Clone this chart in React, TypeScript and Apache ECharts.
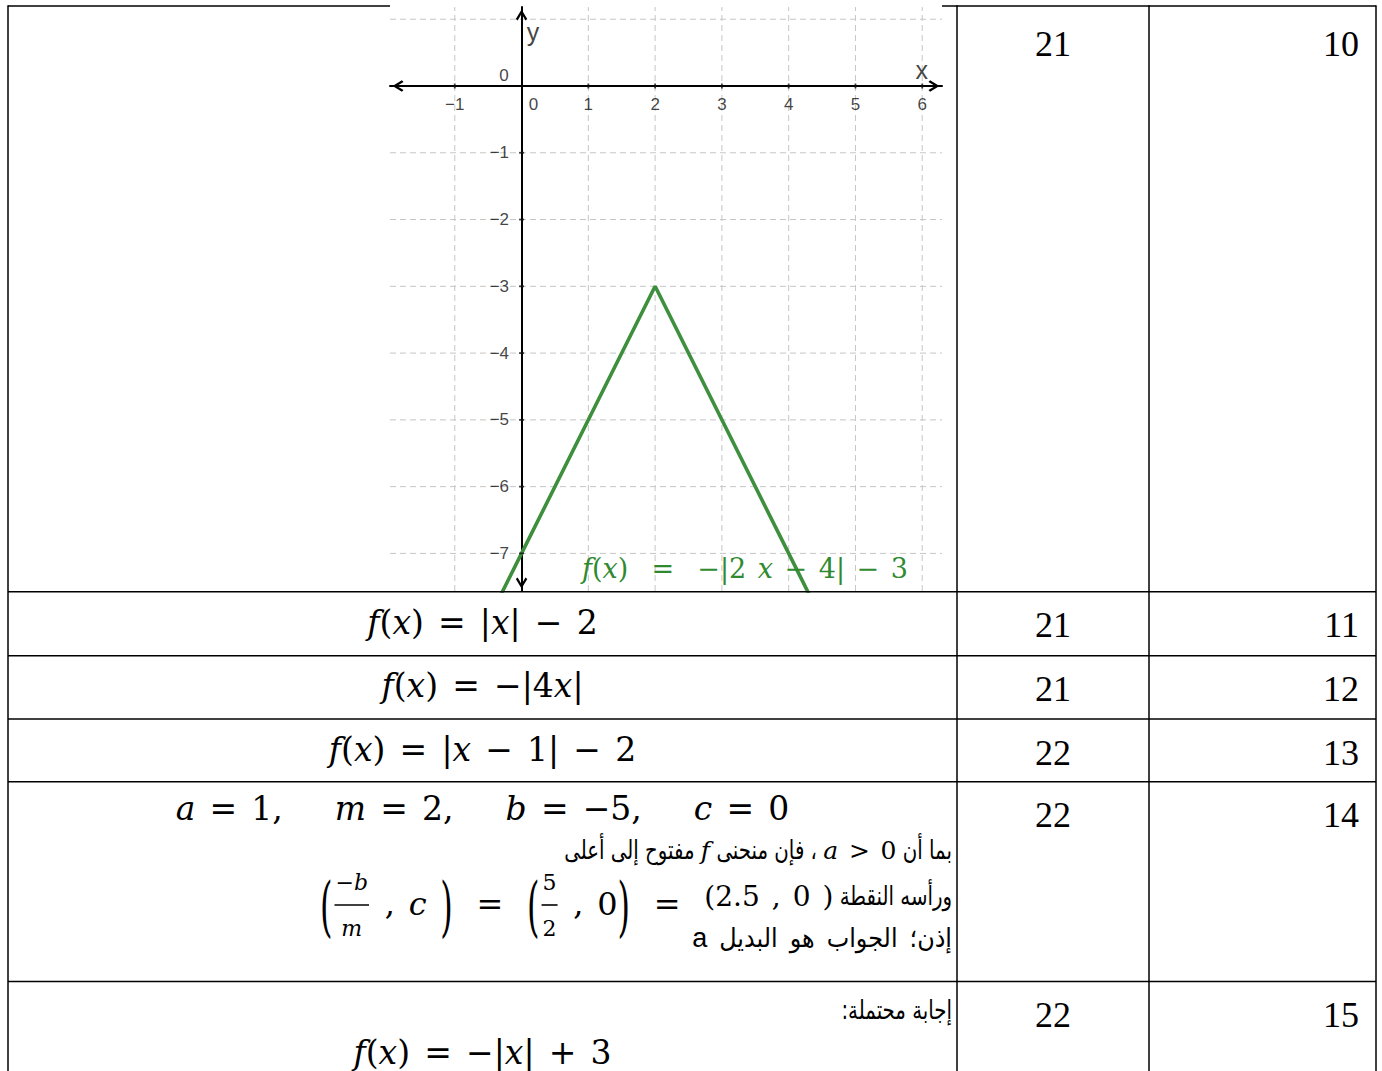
import React, { useEffect, useRef } from 'react';
import * as echarts from 'echarts';

// ---------------- data ----------------
const questionNumbers = ['10', '11', '12', '13', '14', '15'];
const pageNumbers = ['21', '21', '21', '22', '22', '22'];
const answerFormulas = ['f(x) = |x| − 2', 'f(x) = −|4x|', 'f(x) = |x − 1| − 2'];
const coefficientTerms = ['a = 1,', 'm = 2,', 'b = −5,', 'c = 0'];
const finalAnswerFormula = 'f(x) = −|x| + 3';
const curveLabelText = 'f(x)  =  −|2 x − 4| − 3';
const curveX = [-0.5, 0, 2, 4, 4.5];
const curveY = [-8, -7, -3, -7, -8];
const xTickValues = [-1, 0, 1, 2, 3, 4, 5, 6];
const yTickValues = [-1, -2, -3, -4, -5, -6, -7];
const xGridValues = [-1, 1, 2, 3, 4, 5, 6];
const yGridValues = [1, -1, -2, -3, -4, -5, -6, -7];
const openingLine: any[] = [
  { ar: 'بما أن' },
  { math: 'a > 0' },
  { ar: '،' },
  { ar: 'فإن منحنى' },
  { math: 'f' },
  { ar: 'مفتوح إلى أعلى' },
];
const vertexWords = 'ورأسه النقطة';
const vertexValue = '(2.5 , 0 )';
const conclusionWords = ['إذن؛', 'الجواب', 'هو', 'البديل'];
const conclusionChoice = 'a';
const possibleAnswerLine: any[] = [{ ar: 'إجابة محتملة', gap: 0 }, { ar: ':' }];

// ---------------- layout / style ----------------
const W = 1382;
const H = 1071;
const TABLE_L = 8;
const TABLE_R = 1376;
const COL_A = 957;
const COL_B = 1149;
const TABLE_TOP = 6;
const ROW_LINES = [591.7, 655.7, 719, 781.7, 981.5];
const G = { l: 390, t: 7, r: 942, b: 591 };
const X_MIN = -1.97;
const X_MAX = 6.296;
const Y_MIN = -7.563;
const Y_MAX = 1.183;
const NUM_Y = [44, 625, 688.5, 752.5, 815, 1015];
const FORMULA_Y = [622, 685.5, 749];
const CELL_CX = 482.5;
const AR_RIGHT = 952;

const MF = "'DejaVu Serif', serif";
const AF = "'DejaVu Sans', sans-serif";
const LF = "'Liberation Sans', Arial, sans-serif";
const TF = "'Liberation Serif', 'Times New Roman', serif";
const MS = 33;
const IS = 25;
const L3S = 32;
const FRAC_S = 22;
const AS = 26;
const AR_SX = 0.76;
const SPACE_K = 1.35;
const BIG_SY = 2.05;
const COEF_GAP = 52;
const EQ_PAD = 10;
const GREEN = '#3d8f3d';
const GREEN_TEXT = '#2f8a2f';
const CHEVRON = 'path://M5,0L10,8.2L8.4,9.6L5,3.8L1.6,9.6L0,8.2Z';

const fmt = (v: number) => (v < 0 ? '−' + Math.abs(v) : String(v));

function buildOption() {
  const ctx = document.createElement('canvas').getContext('2d') as CanvasRenderingContext2D;
  const measure = (t: string, fam: string, size: number, it = false) => {
    ctx.font = `${it ? 'italic ' : ''}${size}px ${fam}`;
    return ctx.measureText(t).width;
  };
  const els: any[] = [];
  const text = (t: string, x: number, y: number, fam: string, size: number, o: any = {}) => {
    els.push({
      type: 'text',
      x,
      y,
      scaleX: o.sx ?? 1,
      scaleY: o.sy ?? 1,
      silent: true,
      z: 10,
      style: {
        text: t,
        fontFamily: fam,
        fontSize: size,
        fontStyle: o.it ? 'italic' : 'normal',
        fill: o.fill ?? '#000',
        align: o.align ?? 'left',
        textAlign: o.align ?? 'left',
        verticalAlign: 'middle',
        textVerticalAlign: 'middle',
      },
    });
  };
  const line = (x1: number, y1: number, x2: number, y2: number, w = 1.5) =>
    els.push({ type: 'line', silent: true, z: 9, shape: { x1, y1, x2, y2 }, style: { stroke: '#000', lineWidth: w } });

  const tokens = (t: string) => t.match(/\s+|[A-Za-z]+|[^A-Za-z\s]+/g) || [];
  const isIt = (k: string) => /^[A-Za-z]+$/.test(k);
  const tokW = (k: string, s: number, fam: string) =>
    measure(k, fam, s, isIt(k)) * (k.trim() ? 1 : SPACE_K);
  const mW = (t: string, s: number, fam = MF) => tokens(t).reduce((a, k) => a + tokW(k, s, fam), 0);
  const mDraw = (t: string, x: number, y: number, s: number, fill = '#000', fam = MF) => {
    let cx = x;
    tokens(t).forEach((k) => {
      const w = tokW(k, s, fam);
      if (k.trim()) text(k, cx, y, fam, s, { it: isIt(k), fill });
      cx += w;
    });
  };

  const itemW = (it: any, s: number): number => {
    if (it.k === 'm') return mW(it.t, it.s ?? s);
    if (it.k === 'sp') return it.w;
    if (it.k === 'big') return measure(it.t, MF, s);
    return Math.max(mW(it.n, FRAC_S), mW(it.d, FRAC_S)) + 6;
  };
  const boxW = (items: any[], s: number) => items.reduce((a, it) => a + itemW(it, s), 0);
  const drawBox = (items: any[], x: number, y: number, s: number) => {
    let cx = x;
    items.forEach((it) => {
      const w = itemW(it, s);
      if (it.k === 'm') mDraw(it.t, cx, y + (it.dy ?? 0), it.s ?? s);
      else if (it.k === 'big') text(it.t, cx, y + 2, MF, s, { sy: BIG_SY });
      else if (it.k === 'frac') {
        const nw = mW(it.n, FRAC_S);
        const dw = mW(it.d, FRAC_S);
        mDraw(it.n, cx + (w - nw) / 2, y - 22, FRAC_S);
        mDraw(it.d, cx + (w - dw) / 2, y + 24, FRAC_S);
        line(cx + 2, y + 1, cx + w - 2, y + 1, 1.6);
      }
      cx += w;
    });
  };
  const rtl = (parts: any[], xr: number, y: number, sx = AR_SX) => {
    const gap = measure(' ', AF, AS) * sx;
    let cx = xr;
    parts.forEach((p) => {
      let w = 0;
      const yy = y + (p.dy ?? 0);
      if (p.ar !== undefined) {
        w = measure(p.ar, AF, AS) * sx;
        text(p.ar, cx, yy, AF, AS, { align: 'right', sx });
      } else if (p.lat !== undefined) {
        w = measure(p.lat, LF, AS + 1);
        text(p.lat, cx, yy, LF, AS + 1, { align: 'right' });
      } else if (p.math !== undefined) {
        w = mW(p.math, IS);
        mDraw(p.math, cx - w, yy, IS);
      } else if (p.box) {
        w = boxW(p.box, p.s);
        drawBox(p.box, cx - w, yy, p.s);
      }
      cx -= w + (p.gap ?? gap);
    });
  };

  // table lines
  line(TABLE_L, TABLE_TOP, G.l, TABLE_TOP);
  line(G.r, TABLE_TOP, TABLE_R, TABLE_TOP);
  ROW_LINES.forEach((y) => line(TABLE_L, y, TABLE_R, y));
  [TABLE_L, COL_A, COL_B, TABLE_R].forEach((x) => line(x, TABLE_TOP - 0.75, x, H));

  // number columns
  pageNumbers.forEach((p, i) => text(p, (COL_A + COL_B) / 2, NUM_Y[i], TF, 36, { align: 'center' }));
  questionNumbers.forEach((q, i) => text(q, TABLE_R - 17, NUM_Y[i], TF, 36, { align: 'right' }));

  // formulas rows 11-13
  answerFormulas.forEach((f, i) => {
    const w = mW(f, MS);
    mDraw(f, CELL_CX - w / 2, FORMULA_Y[i], MS);
  });

  // row 14
  const coefItems: any[] = [];
  coefficientTerms.forEach((t, i) => {
    if (i) coefItems.push({ k: 'sp', w: COEF_GAP });
    coefItems.push({ k: 'm', t });
  });
  const cw = boxW(coefItems, MS);
  drawBox(coefItems, CELL_CX - cw / 2, 808, MS);
  rtl(openingLine, AR_RIGHT, 850);
  const eq = [{ k: 'sp', w: EQ_PAD }, { k: 'm', t: ' = ' }, { k: 'sp', w: EQ_PAD }];
  const vItems = [
    { k: 'big', t: '(' },
    { k: 'frac', n: '−b', d: 'm' },
    { k: 'm', t: ' , c ' },
    { k: 'big', t: ')' },
    ...eq,
    { k: 'big', t: '(' },
    { k: 'frac', n: '5', d: '2' },
    { k: 'm', t: ' , 0' },
    { k: 'big', t: ')' },
    ...eq,
    { k: 'm', t: vertexValue, s: 28, dy: -8 },
  ];
  rtl([{ ar: vertexWords }, { box: vItems, s: L3S, dy: 8 }], AR_RIGHT, 896);
  rtl(
    [...conclusionWords.map((w) => ({ ar: w, gap: 12 })), { lat: conclusionChoice }],
    AR_RIGHT,
    938,
    0.92
  );

  // row 15
  rtl(possibleAnswerLine, AR_RIGHT, 1010);
  const fw = mW(finalAnswerFormula, MS);
  mDraw(finalAnswerFormula, CELL_CX - fw / 2, 1052, MS);

  // curve label inside the graph
  mDraw(curveLabelText, 582, 568, 27, GREEN_TEXT);

  const gridLine = (data: number[][]) => ({
    type: 'line',
    silent: true,
    z: 1,
    symbol: 'none',
    data,
    lineStyle: { color: '#c6c6c6', width: 1, type: [6, 4] },
  });

  const series: any[] = [
    ...xGridValues.map((v) => gridLine([[v, Y_MIN], [v, Y_MAX]])),
    ...yGridValues.map((v) => gridLine([[X_MIN, v], [X_MAX, v]])),
    {
      type: 'line',
      name: 'f',
      z: 3,
      symbol: 'none',
      clip: true,
      data: curveX.map((x, i) => [x, curveY[i]]),
      lineStyle: { color: GREEN, width: 3.6 },
    },
    {
      type: 'scatter',
      silent: true,
      z: 4,
      symbol: 'rect',
      symbolSize: [1.8, 5],
      itemStyle: { color: '#111' },
      data: xTickValues.filter((v) => v !== 0).map((v) => [v, 0]),
    },
    {
      type: 'scatter',
      silent: true,
      z: 4,
      symbol: 'rect',
      symbolSize: [5, 1.8],
      itemStyle: { color: '#111' },
      data: yTickValues.map((v) => [0, v]),
    },
    {
      type: 'scatter',
      silent: true,
      z: 5,
      symbolSize: 1,
      itemStyle: { color: 'rgba(0,0,0,0)' },
      data: xTickValues.map((v) => ({ value: [v, 0], label: { offset: [v === 0 ? 12 : 0, 0] } })),
      label: {
        show: true,
        position: 'bottom',
        distance: 10,
        formatter: (p: any) => fmt(p.value[0]),
        color: '#111',
        fontSize: 17,
        fontFamily: LF,
      },
    },
    {
      type: 'scatter',
      silent: true,
      z: 5,
      symbolSize: 1,
      itemStyle: { color: 'rgba(0,0,0,0)' },
      data: yTickValues.map((v) => [0, v]),
      label: {
        show: true,
        position: 'left',
        distance: 12,
        formatter: (p: any) => fmt(p.value[1]),
        color: '#111',
        fontSize: 17,
        fontFamily: LF,
      },
    },
    {
      type: 'scatter',
      silent: true,
      z: 5,
      symbolSize: 1,
      itemStyle: { color: 'rgba(0,0,0,0)' },
      data: [
        { value: [0, 0], label: { formatter: '0', position: [-17, -10], fontSize: 17 } },
        { value: [6, 0], label: { formatter: 'x', position: [0, -15], fontSize: 25 } },
        { value: [0, Y_MAX], label: { formatter: 'y', position: [12, 25], fontSize: 25 } },
      ],
      label: { show: true, color: '#111', fontFamily: LF, align: 'center', verticalAlign: 'middle' },
    },
  ];

  const axisCommon = {
    type: 'value',
    z: 2,
    axisTick: { show: false },
    axisLabel: { show: false },
    splitLine: { show: false },
    axisLine: {
      show: true,
      onZero: true,
      symbol: [CHEVRON, CHEVRON],
      symbolSize: [17, 11],
      symbolOffset: [8, -8],
      lineStyle: { color: '#000', width: 2 },
    },
  };

  return {
    animation: false,
    backgroundColor: '#ffffff',
    grid: { left: G.l, top: G.t, width: G.r - G.l, height: G.b - G.t, show: false, containLabel: false },
    xAxis: { ...axisCommon, min: X_MIN, max: X_MAX },
    yAxis: { ...axisCommon, min: Y_MIN, max: Y_MAX },
    series,
    graphic: { elements: els },
  };
}

export default function App() {
  const ref = useRef<HTMLDivElement>(null);
  useEffect(() => {
    const chart = echarts.init(ref.current as HTMLDivElement, null, { renderer: 'svg' });
    chart.setOption(buildOption() as any);
    return () => chart.dispose();
  }, []);
  return (
    <div
      ref={ref}
      style={{ position: 'absolute', left: 0, top: 0, width: W, height: H, background: '#fff' }}
    />
  );
}
